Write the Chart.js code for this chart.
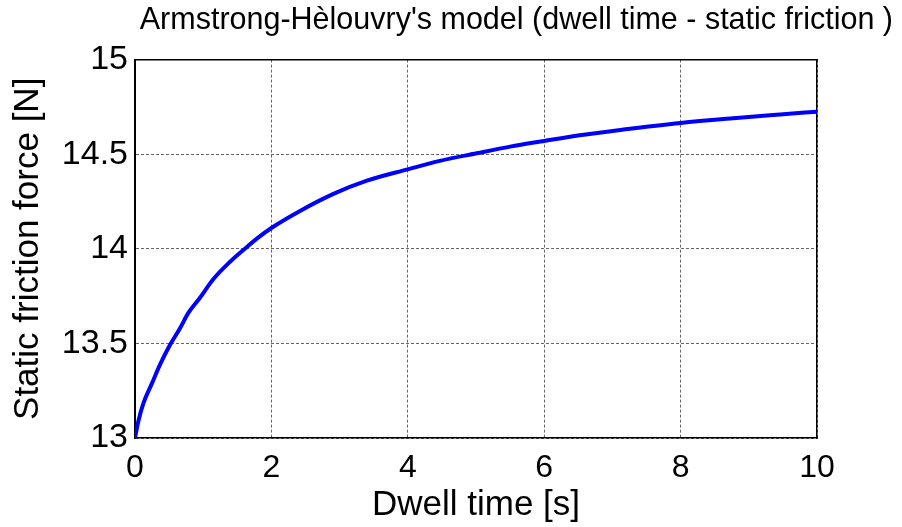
<!DOCTYPE html>
<html lang="en">

<head>
    <meta charset="UTF-8">
    <title>Armstrong-Hèlouvry dwell time</title>
    <script src="https://cdn.jsdelivr.net/npm/chart.js@4.4.1/dist/chart.umd.min.js"></script>
    <style>
        html, body { margin: 0; padding: 0; background: #fff; }
        #wrap { width: 902px; height: 527px; }
    </style>
</head>

<body>
    <div id="wrap"><canvas id="frictionChart" width="902" height="527"></canvas></div>

    <script>
        // dwell time [s] and static friction force [N]
        var dwellTime = [0, 0.05, 0.12, 0.25, 0.37, 0.51, 0.66, 0.78, 0.95, 1.15, 1.39, 1.61, 1.81, 2,
            2.42, 2.91, 3.4, 4, 4.47, 5.01, 5.5, 6, 6.52, 7.16, 8, 8.77, 9.46, 10];
        var staticForce = [13.0, 13.09, 13.18, 13.29, 13.39, 13.49, 13.58, 13.66, 13.74, 13.84, 13.93, 14.0, 14.06, 14.11,
            14.2, 14.29, 14.36, 14.42, 14.465, 14.505, 14.54, 14.57, 14.6, 14.63, 14.665, 14.69, 14.71, 14.725];
        var xTicks = [0, 2, 4, 6, 8, 10];
        var yTicks = [13, 13.5, 14, 14.5, 15];

        var points = dwellTime.map(function (t, i) {
            return { x: t, y: staticForce[i] };
        });

        var font = 'Liberation Sans, Arial, sans-serif';
        var gridStyle = {
            color: '#666',
            lineWidth: 1,
            drawTicks: false
        };
        // matlab style: plain numbers, no trailing zeros
        var plainLabel = function (v) { return String(v); };

        var ctx = document.getElementById('frictionChart').getContext('2d');
        var frictionChart = new Chart(ctx, {
            type: 'line',
            data: {
                datasets: [{
                    label: 'Static friction',
                    data: points,
                    borderColor: '#0000ff',
                    borderWidth: 4,
                    pointRadius: 0,
                    cubicInterpolationMode: 'monotone',
                    fill: false
                }]
            },
            options: {
                responsive: false,
                animation: false,
                layout: { padding: { right: 9 } },
                plugins: {
                    legend: { display: false },
                    tooltip: { enabled: false },
                    title: {
                        display: true,
                        text: "Armstrong-Hèlouvry's model (dwell time - static friction )",
                        align: 'end',
                        color: '#000',
                        font: { family: font, size: 30.5, weight: 'normal' },
                        padding: { top: 2, bottom: 21 }
                    }
                },
                scales: {
                    x: {
                        type: 'linear',
                        min: 0,
                        max: 10,
                        afterFit: function (s) { s.height = 89; },
                        afterBuildTicks: function (s) { s.ticks = xTicks.map(function (v) { return { value: v }; }); },
                        grid: gridStyle,
                        border: { color: '#000', width: 1.5, dash: [3, 2] },
                        ticks: { color: '#000', padding: 11, font: { family: font, size: 32 }, callback: plainLabel },
                        title: {
                            display: true,
                            text: 'Dwell time [s]',
                            color: '#000',
                            font: { family: font, size: 35 },
                            padding: { top: 0, bottom: 1 }
                        }
                    },
                    xTop: {
                        type: 'linear',
                        position: 'top',
                        min: 0,
                        max: 10,
                        afterFit: function (s) { s.height = 0; },
                        grid: { display: false },
                        border: { color: '#000', width: 1.5 },
                        ticks: { display: false }
                    },
                    y: {
                        min: 13,
                        max: 15,
                        afterFit: function (s) { s.width = 135; },
                        afterBuildTicks: function (s) { s.ticks = yTicks.map(function (v) { return { value: v }; }); },
                        grid: gridStyle,
                        border: { color: '#000', width: 2, dash: [3, 2] },
                        ticks: { color: '#000', padding: 7, font: { family: font, size: 34 }, callback: plainLabel },
                        title: {
                            display: true,
                            text: 'Static friction force [N]',
                            color: '#000',
                            font: { family: font, size: 35 },
                            padding: { top: 7, bottom: 0 }
                        }
                    },
                    yRight: {
                        position: 'right',
                        min: 13,
                        max: 15,
                        afterFit: function (s) { s.width = 76; },
                        grid: { display: false },
                        border: { color: '#000', width: 1.5 },
                        ticks: { display: false }
                    }
                }
            }
        });
    </script>
</body>

</html>
